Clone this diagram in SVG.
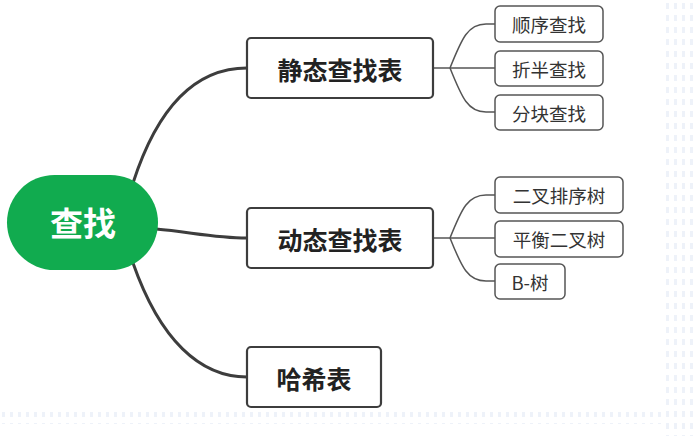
<svg xmlns="http://www.w3.org/2000/svg" width="697" height="436" viewBox="0 0 697 436">
<style>
.main{fill:#fff;stroke:#3d3d3d;stroke-width:2.2}
.leaf{fill:#fff;stroke:#555;stroke-width:1.5}
.mt{font-family:"Noto Sans CJK SC","Noto Sans",sans-serif;font-weight:bold;font-size:25px;fill:#222;text-anchor:middle;dominant-baseline:central}
.lt{font-family:"Noto Sans CJK SC","Noto Sans",sans-serif;font-size:18.5px;fill:#333;text-anchor:middle;dominant-baseline:central}
.c1{fill:none;stroke:#3d3d3d;stroke-width:3}
.c2{fill:none;stroke:#555;stroke-width:1.5}
</style>
<defs>
<pattern id="dots" width="8" height="12" patternUnits="userSpaceOnUse">
<rect x="2" y="3" width="3" height="6" fill="#eef2f9"/>
</pattern>
</defs>
<rect width="697" height="436" fill="#fff"/>
<rect x="662" y="0" width="35" height="436" fill="url(#dots)"/>
<rect x="0" y="412" width="697" height="12" fill="url(#dots)"/>
<g id="connectors">
<path class="c1" d="M133 183 C155 115 190 68 247 68"/>
<path class="c1" d="M156 229 C190 232 215 238 247 238"/>
<path class="c1" d="M133 263 C160 340 200 377 247 377"/>
<path class="c2" d="M433 68 H450"/>
<path class="c2" d="M450 68 C462 38 468 24 486 24 H495"/>
<path class="c2" d="M450 68 H495"/>
<path class="c2" d="M450 68 C462 98 468 112 486 112 H495"/>
<path class="c2" d="M433 238 H450"/>
<path class="c2" d="M450 238 C462 208 468 195 486 195 H495"/>
<path class="c2" d="M450 238 H495"/>
<path class="c2" d="M450 238 C462 268 468 281 486 281 H495"/>
</g>
<g id="root">
<rect x="7" y="175" width="151" height="95" rx="47.5" fill="#11ab4f"/>
<text x="83" y="222" class="mt" style="fill:#fff;font-size:33px">查找</text>
</g>
<g id="static">
<rect class="main" x="247" y="38" width="186" height="60" rx="4"/>
<text class="mt" x="340" y="69">静态查找表</text>
</g>
<g id="dynamic">
<rect class="main" x="247" y="208" width="186" height="60" rx="4"/>
<text class="mt" x="340" y="239">动态查找表</text>
</g>
<g id="hash">
<rect class="main" x="247" y="347" width="134" height="60" rx="4"/>
<text class="mt" x="314" y="378">哈希表</text>
</g>
<g id="seq">
<rect class="leaf" x="495" y="6" width="108" height="36" rx="5"/>
<text class="lt" x="549" y="24">顺序查找</text>
</g>
<g id="binary">
<rect class="leaf" x="495" y="51" width="108" height="35" rx="5"/>
<text class="lt" x="549" y="68.5">折半查找</text>
</g>
<g id="block">
<rect class="leaf" x="495" y="95" width="108" height="35" rx="5"/>
<text class="lt" x="549" y="112.5">分块查找</text>
</g>
<g id="bst">
<rect class="leaf" x="495" y="177" width="128" height="36" rx="5"/>
<text class="lt" x="559" y="195">二叉排序树</text>
</g>
<g id="avl">
<rect class="leaf" x="495" y="221" width="128" height="36" rx="5"/>
<text class="lt" x="559" y="239">平衡二叉树</text>
</g>
<g id="btree">
<rect class="leaf" x="495" y="264" width="70" height="35" rx="5"/>
<text class="lt" x="530" y="281.5">B-树</text>
</g>
</svg>
